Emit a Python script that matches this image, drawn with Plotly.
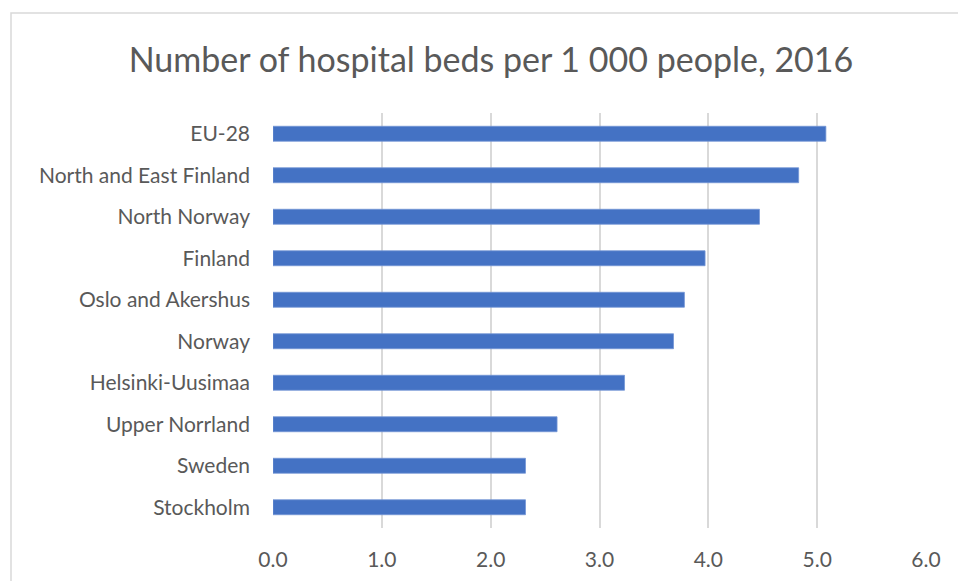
import plotly.graph_objects as go

categories = ["EU-28", "North and East Finland", "North Norway", "Finland",
              "Oslo and Akershus", "Norway", "Helsinki-Uusimaa", "Upper Norrland",
              "Sweden", "Stockholm"]
values = [5.08, 4.83, 4.47, 3.97, 3.78, 3.68, 3.23, 2.61, 2.32, 2.32]
tick_vals = [0, 1, 2, 3, 4, 5, 6]
tick_text = ["0.0", "1.0", "2.0", "3.0", "4.0", "5.0", "6.0"]

W, H = 958, 581
L, R, T, B = 273, 32, 113, 53
pw, ph = W - L - R, H - T - B
FONT = "Lato"

fig = go.Figure(go.Bar(
    x=values, y=categories, orientation="h",
    marker=dict(color="#4472C4", line=dict(color="#7396d6", width=0.8)),
))

fig.update_layout(
    width=W, height=H,
    margin=dict(l=L, r=R, t=T, b=B),
    paper_bgcolor="white", plot_bgcolor="white",
    bargap=0.64,
    showlegend=False,
    font=dict(family=FONT, color="#595959", size=21),
    title=dict(text="Number of hospital beds per 1 000 people, 2016",
               x=491 / W, xanchor="center", xref="container",
               y=1 - 60 / H, yanchor="middle", yref="container",
               font=dict(family=FONT, size=34, color="#595959")),
    xaxis=dict(range=[0, 6], tickvals=tick_vals, ticktext=tick_text,
               showgrid=True, gridcolor="#d9d9d9", gridwidth=1.5,
               zeroline=False, showline=False, ticks="",
               ticklabelstandoff=17, automargin=False,
               tickfont=dict(size=21, color="#595959")),
    yaxis=dict(categoryorder="array", categoryarray=categories[::-1],
               showgrid=False, zeroline=False, showline=False, ticks="",
               ticklabelstandoff=22, automargin=False,
               tickfont=dict(size=21, color="#595959")),
    shapes=[dict(type="rect", xref="paper", yref="paper",
                 x0=(11 - L) / pw, x1=(1010 - L) / pw,
                 y0=(H - B - 640) / ph, y1=(H - B - 13) / ph,
                 line=dict(color="#d9d9d9", width=1.5), fillcolor="rgba(0,0,0,0)",
                 layer="below")],
)

fig.write_html("out.html",
               config={"displayModeBar": False},
               post_script="document.body.style.margin='0';"
                           "document.body.style.overflow='hidden';")
